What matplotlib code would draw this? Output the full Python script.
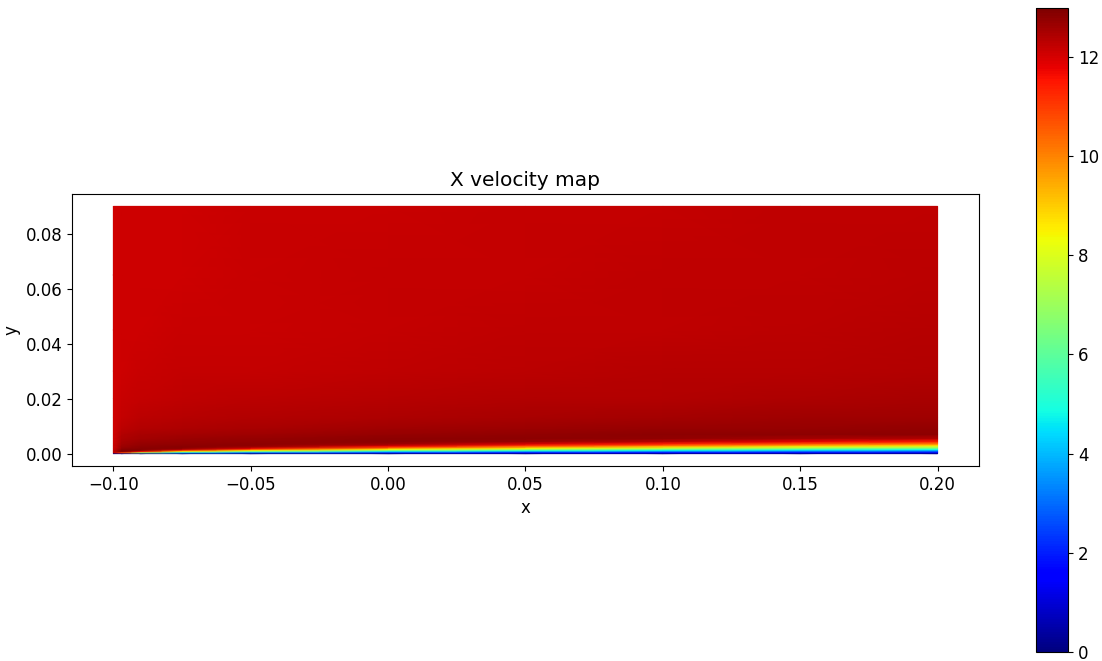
import numpy as np
import matplotlib
matplotlib.use("Agg")
import matplotlib.pyplot as plt

x_pts = [-0.1, -0.097, -0.09, -0.075, -0.05, 0.0, 0.05, 0.1, 0.15, 0.2]
y_pts = [0.0, 0.0004, 0.0008, 0.0012, 0.0016, 0.002, 0.0025, 0.003, 0.0036,
         0.0044, 0.0055, 0.007, 0.009, 0.013, 0.02, 0.03, 0.045, 0.065, 0.09]

# X velocity (m/s), one list per x column, bottom to top
u_cols = [
    [0, 12.2, 12.2, 12.15, 12.12, 12.1, 12.1, 12.08, 12.08, 12.06, 12.06, 12.05, 12.05, 12.05, 12.05, 12.05, 12.05, 12.05, 12.05],
    [0, 10.9, 12.9, 12.98, 12.85, 12.75, 12.65, 12.6, 12.55, 12.5, 12.45, 12.4, 12.3, 12.2, 12.15, 12.1, 12.1, 12.1, 12.1],
    [0, 7.0, 11.6, 12.8, 12.9, 12.85, 12.8, 12.75, 12.7, 12.65, 12.55, 12.5, 12.4, 12.3, 12.2, 12.15, 12.1, 12.1, 12.1],
    [0, 4.2, 8.1, 10.9, 12.35, 12.8, 12.85, 12.8, 12.75, 12.7, 12.65, 12.55, 12.45, 12.35, 12.25, 12.18, 12.12, 12.1, 12.1],
    [0, 3.0, 6.0, 8.5, 10.55, 11.85, 12.6, 12.8, 12.8, 12.75, 12.7, 12.6, 12.5, 12.4, 12.3, 12.2, 12.15, 12.12, 12.12],
    [0, 2.2, 4.3, 6.4, 8.25, 9.7, 11.3, 12.15, 12.65, 12.8, 12.8, 12.7, 12.6, 12.45, 12.35, 12.25, 12.2, 12.17, 12.15],
    [0, 1.75, 3.5, 5.25, 6.9, 8.4, 9.85, 11.1, 12.0, 12.65, 12.8, 12.75, 12.65, 12.5, 12.4, 12.3, 12.22, 12.2, 12.18],
    [0, 1.54, 3.07, 4.6, 6.1, 7.5, 8.95, 10.2, 11.4, 12.3, 12.75, 12.8, 12.7, 12.55, 12.42, 12.33, 12.27, 12.23, 12.2],
    [0, 1.37, 2.7, 4.1, 5.4, 6.7, 8.1, 9.4, 10.6, 11.8, 12.55, 12.8, 12.72, 12.58, 12.45, 12.37, 12.3, 12.26, 12.23],
    [0, 1.24, 2.5, 3.7, 4.9, 6.1, 7.5, 8.7, 10.0, 11.4, 12.35, 12.8, 12.75, 12.6, 12.5, 12.4, 12.33, 12.28, 12.25],
]
cbar_ticks = [0, 2, 4, 6, 8, 10, 12]

X, Y = np.meshgrid(x_pts, y_pts)
U = np.array(u_cols).T

fig = plt.figure(figsize=(11.02, 6.61), dpi=100)
ax = fig.add_axes([0.0653, 0.295, 0.8231, 0.4115])
mesh = ax.pcolormesh(X, Y, U, cmap="jet", shading="gouraud", vmin=0)
ax.set_aspect("equal")
ax.set_xlim(-0.115, 0.215)
ax.set_ylim(-0.0045, 0.0945)
ax.set_title("X velocity map", fontsize=14.5)
ax.set_xlabel("x", fontsize=12)
ax.set_ylabel("y", fontsize=12)
ax.tick_params(labelsize=12)

# colorbar spans nearly the whole figure height
cax = fig.add_axes([0.9401, 0.0136, 0.0295, 0.974])
cb = fig.colorbar(mesh, cax=cax, ticks=cbar_ticks)
cb.ax.tick_params(labelsize=12)

fig.savefig("out.png", dpi=100)
